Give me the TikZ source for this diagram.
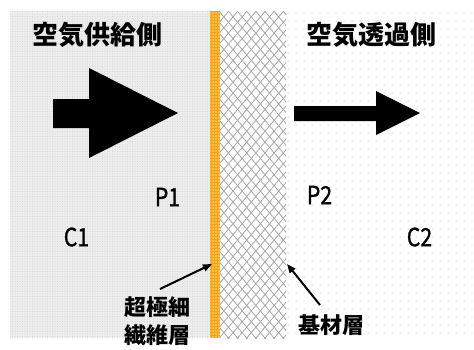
\documentclass[tikz,border=0pt]{standalone}
\usepackage{fontspec}
\newfontfamily\jp{Noto Sans CJK JP}
\newfontfamily\jpm[FakeBold=1.2]{Noto Sans CJK JP}
\usetikzlibrary{patterns.meta,arrows.meta}
\definecolor{stripor}{HTML}{F7A21E}
\begin{document}
\begin{tikzpicture}[x=1pt,y=-1pt,
  title/.style={font=\jp\bfseries\fontsize{26}{30}\selectfont,inner sep=0pt,anchor=center},
  sym/.style={font=\jpm\fontsize{25}{28}\selectfont,inner sep=0pt,anchor=center,xscale=0.85},
  lab/.style={font=\jp\bfseries\fontsize{22}{28}\selectfont,inner sep=0pt,align=center,anchor=center},
  pointer/.style={line width=2pt,-{Triangle[length=9pt,width=7pt]}},
  bigarrow/.style={fill=black,draw=none}]
\useasboundingbox (0,0) rectangle (474,349);
\fill[white] (0,0) rectangle (474,349);
% supply side
\fill[gray!14] (10,11) rectangle (210,338);
\fill[pattern={Dots[distance=2.5pt,radius=0.45pt]},pattern color=gray!45] (10,11) rectangle (210,338);
% fiber strip
\fill[stripor] (210,11) rectangle (220,338);
\fill[pattern={Dots[distance=3pt,radius=0.8pt]},pattern color=orange!40!yellow!60] (210,11) rectangle (220,338);
% substrate
\fill[white] (220,11) rectangle (286,338);
\begin{scope}
\clip (220,11) rectangle (286,338);
\fill[pattern={Lines[angle=50,distance=7pt,line width=0.8pt]},pattern color=gray!70] (220,11) rectangle (286,338);
\fill[pattern={Lines[angle=-50,distance=7pt,line width=0.8pt]},pattern color=gray!70] (220,11) rectangle (286,338);
\end{scope}
% permeate side
\fill[pattern={Dots[distance=8pt,radius=0.5pt]},pattern color=gray!60] (286,11) rectangle (474,338);
% big arrows
\fill[bigarrow] (53,99) -- (89,99) -- (89,68) -- (178,113) -- (89,158) -- (89,128) -- (53,128) -- cycle;
\fill[bigarrow] (294,106) -- (376,106) -- (376,91) -- (420,113) -- (376,135) -- (376,121) -- (294,121) -- cycle;
% texts
\node[title] (t1) at (97,35) {空気供給側};
\node[title] (t2) at (371.5,35) {空気透過側};
\node[sym] (p1) at (167.5,197) {P1};
\node[sym] (c1) at (76.5,237) {C1};
\node[sym] (p2) at (319.5,195) {P2};
\node[sym] (c2) at (419.5,237) {C2};
\node[lab] (l1) at (157.5,321) {超極細\\繊維層};
\node[lab] (l2) at (331.5,325) {基材層};
\coordinate (s1) at (160,289);
\coordinate (e1) at (212,264);
\coordinate (s2) at (320,305);
\coordinate (e2) at (287,264);
\draw[pointer] (s1) -- (e1);
\draw[pointer] (s2) -- (e2);
\end{tikzpicture}
\end{document}
